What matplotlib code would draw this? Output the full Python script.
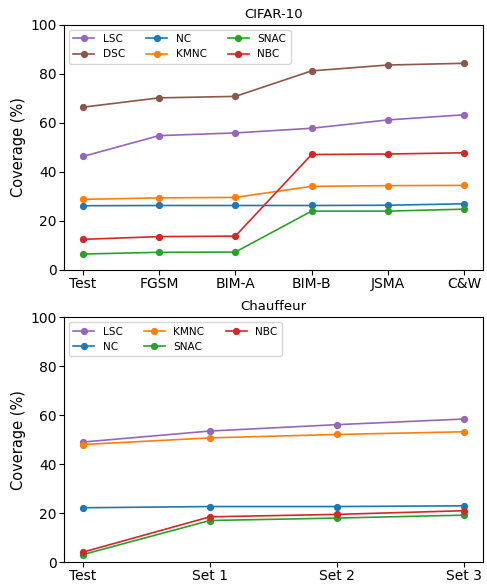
import numpy as np
import matplotlib
matplotlib.use("Agg")
import matplotlib.pyplot as plt

# CIFAR-10 coverage (%)
cifar_labels = ["Test", "FGSM", "BIM-A", "BIM-B", "JSMA", "C&W"]
cifar_lsc = [46.2, 54.7, 55.8, 57.7, 61.1, 63.2]
cifar_dsc = [66.3, 70.1, 70.7, 81.1, 83.5, 84.2]
cifar_nc = [26.1, 26.2, 26.2, 26.2, 26.3, 26.9]
cifar_kmnc = [28.7, 29.3, 29.5, 34.0, 34.3, 34.4]
cifar_snac = [6.4, 7.1, 7.2, 23.9, 23.9, 24.7]
cifar_nbc = [12.4, 13.5, 13.7, 47.0, 47.2, 47.7]

# Chauffeur coverage (%)
chauf_labels = ["Test", "Set 1", "Set 2", "Set 3"]
chauf_lsc = [49.0, 53.5, 56.1, 58.4]
chauf_nc = [22.2, 22.7, 22.7, 23.0]
chauf_kmnc = [48.0, 50.7, 52.1, 53.2]
chauf_snac = [3.1, 17.0, 18.0, 19.2]
chauf_nbc = [4.1, 18.5, 19.5, 21.0]

colors = {
    "LSC": "tab:purple",
    "DSC": "tab:brown",
    "NC": "tab:blue",
    "KMNC": "tab:orange",
    "SNAC": "tab:green",
    "NBC": "tab:red",
}

fig, (ax1, ax2) = plt.subplots(2, 1, figsize=(4.87, 5.85), dpi=100)
plt.subplots_adjust(left=0.131, right=0.992, top=0.958, bottom=0.039, hspace=0.193)


def draw(ax, labels, series, title):
    x = np.arange(len(labels))
    for name, vals in series:
        ax.plot(x, vals, marker="o", markersize=4.2, linewidth=1.2,
                color=colors[name], label=name)
    ax.set_xticks(x)
    ax.set_xticklabels(labels)
    ax.set_ylim(0, 100)
    ax.set_yticks(np.arange(0, 101, 20))
    ax.tick_params(axis="both", labelsize=10, pad=1.5)
    ax.set_ylabel("Coverage (%)", fontsize=10.5, labelpad=3)
    ax.set_title(title, fontsize=9.5, pad=5)
    ax.legend(loc="upper left", ncol=3, fontsize=7.6, columnspacing=2.0)


draw(ax1, cifar_labels,
     [("LSC", cifar_lsc), ("DSC", cifar_dsc), ("NC", cifar_nc),
      ("KMNC", cifar_kmnc), ("SNAC", cifar_snac), ("NBC", cifar_nbc)],
     "CIFAR-10")
draw(ax2, chauf_labels,
     [("LSC", chauf_lsc), ("NC", chauf_nc), ("KMNC", chauf_kmnc),
      ("SNAC", chauf_snac), ("NBC", chauf_nbc)],
     "Chauffeur")

plt.savefig("out.png")
plt.close()
